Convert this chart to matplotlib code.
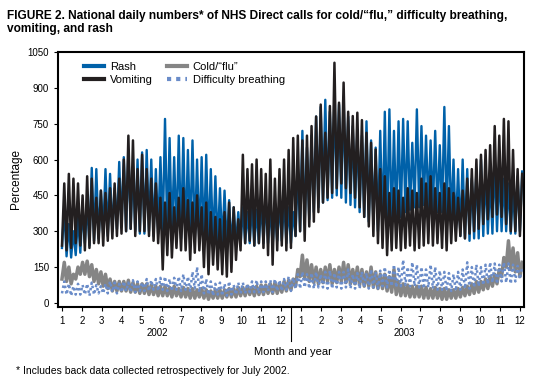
import numpy as np
import matplotlib.pyplot as plt

# weekly readings (Jan 2002 - early Dec 2003): weekly peak and weekly low
rash_hi = [400, 330, 300, 360, 390, 420, 565, 560, 470, 560, 540, 480, 590,
           610, 640, 570, 600, 630, 640, 600, 560, 610, 770, 690, 610, 700,
           690, 640, 680, 600, 610, 620, 560, 530, 480, 470, 430, 400, 380,
           400, 380, 410, 390, 420, 430, 400, 390, 420, 430, 400, 380, 560,
           720, 650, 700, 780, 820, 850, 800, 870, 830, 860, 780, 740, 720,
           700, 760, 680, 650, 720, 800, 810, 720, 760, 770, 760, 670, 810,
           740, 700, 680, 720, 660, 820, 740, 600, 560, 600, 560, 520, 560,
           600, 550, 520, 600, 560, 520, 500, 480, 530, 550]
rash_lo = [230, 195, 190, 200, 210, 250, 240, 260, 270, 290, 280, 300, 310,
           320, 300, 310, 300, 290, 290, 300, 280, 290, 290, 280, 270, 280,
           270, 260, 270, 260, 250, 250, 250, 240, 240, 240, 230, 230, 240,
           240, 250, 250, 240, 250, 250, 250, 240, 260, 260, 250, 250, 280,
           300, 330, 350, 380, 400, 420, 430, 440, 450, 440, 420, 410, 400,
           380, 360, 340, 330, 300, 300, 310, 320, 340, 360, 380, 390, 400,
           400, 410, 400, 390, 380, 380, 360, 330, 300, 280, 270, 260, 270,
           270, 280, 290, 290, 300, 300, 300, 290, 290, 300]
vom_hi = [500, 540, 520, 500, 450, 530, 520, 440, 470, 460, 480, 500, 520,
          600, 700, 680, 560, 620, 560, 520, 500, 440, 420, 460, 400, 440,
          480, 430, 420, 450, 400, 420, 380, 360, 350, 380, 420, 400, 350,
          620, 560, 580, 600, 560, 540, 600, 520, 560, 600, 640, 690, 700,
          680, 700, 740, 780, 830, 712, 824, 1005, 838, 922, 800, 782, 796,
          765, 712, 670, 642, 560, 530, 460, 480, 470, 440, 480, 470, 460,
          520, 500, 530, 480, 460, 500, 480, 460, 440, 470, 520, 560, 600,
          620, 640, 660, 740, 700, 770, 760, 640, 560, 540]
vom_lo = [240, 220, 230, 250, 240, 220, 230, 250, 250, 240, 260, 270, 280,
          290, 300, 310, 280, 300, 300, 280, 260, 250, 140, 200, 190, 230,
          220, 220, 180, 210, 220, 150, 120, 160, 140, 120, 110, 130, 180,
          220, 250, 260, 240, 250, 230, 200, 160, 220, 240, 220, 230, 280,
          300, 260, 320, 340, 380, 420, 440, 460, 480, 500, 480, 460, 440,
          400, 360, 320, 280, 250, 230, 200, 220, 230, 220, 230, 240, 220,
          230, 240, 250, 240, 250, 230, 220, 250, 260, 280, 270, 290, 300,
          310, 330, 350, 360, 370, 360, 330, 300, 300, 280]
flu_hi = [170, 150, 120, 150, 170, 175, 160, 140, 130, 120, 100, 90, 90,
          90, 95, 85, 80, 80, 80, 75, 70, 70, 70, 65, 70, 60,
          65, 60, 60, 55, 60, 55, 50, 55, 55, 55, 60, 60, 65,
          65, 70, 65, 70, 75, 75, 80, 85, 80, 90, 95, 100, 140,
          200, 180, 160, 150, 140, 150, 160, 140, 150, 170, 160, 140, 150,
          140, 130, 150, 130, 120, 120, 110, 140, 90, 80, 75, 70, 70,
          70, 65, 60, 65, 60, 60, 55, 55, 60, 65, 70, 80, 90,
          90, 100, 110, 120, 140, 190, 260, 230, 210, 170]
flu_lo = [100, 90, 80, 100, 120, 120, 110, 90, 80, 70, 60, 50, 50,
          50, 50, 45, 45, 40, 40, 35, 35, 30, 30, 30, 25, 30,
          25, 25, 20, 20, 25, 20, 15, 20, 20, 20, 25, 25, 25,
          30, 30, 35, 30, 35, 35, 40, 40, 40, 45, 50, 55, 70,
          110, 100, 90, 85, 80, 85, 90, 80, 85, 90, 85, 80, 80,
          75, 70, 70, 65, 60, 60, 50, 45, 35, 30, 30, 25, 25,
          25, 20, 20, 20, 20, 15, 15, 20, 20, 25, 30, 35, 40,
          45, 55, 60, 70, 80, 110, 150, 140, 130, 110]
dib_hi = [90, 80, 70, 80, 75, 80, 85, 75, 70, 80, 90, 85, 80,
          90, 85, 95, 90, 85, 100, 95, 100, 105, 110, 100, 105, 110,
          120, 110, 130, 150, 120, 100, 90, 80, 85, 80, 90, 75, 85,
          85, 80, 90, 95, 90, 90, 95, 100, 95, 100, 110, 105, 120,
          130, 120, 125, 130, 120, 130, 135, 125, 130, 130, 140, 120, 125,
          130, 125, 140, 130, 135, 150, 140, 160, 150, 180, 150, 170, 160,
          150, 140, 160, 150, 135, 130, 125, 120, 130, 140, 170, 150, 160,
          150, 160, 170, 165, 160, 170, 165, 160, 155, 150]
dib_lo = [40, 35, 30, 35, 35, 35, 30, 35, 40, 40, 40, 45, 40,
          45, 50, 45, 45, 50, 50, 50, 55, 50, 55, 50, 50, 55,
          50, 55, 50, 60, 45, 40, 35, 30, 35, 30, 30, 35, 35,
          40, 40, 45, 45, 40, 45, 50, 45, 50, 50, 55, 50, 60,
          60, 65, 60, 60, 65, 65, 60, 60, 65, 60, 65, 60, 60,
          60, 65, 60, 65, 60, 70, 65, 70, 65, 70, 75, 70, 70,
          65, 60, 65, 60, 55, 55, 50, 50, 50, 55, 60, 60, 65,
          70, 75, 80, 85, 80, 90, 85, 80, 90, 100]

month_labels = [str(m) for m in range(1, 13)] * 2
years = ['2002', '2003']

plt.rcParams['font.family'] = ['Liberation Sans', 'DejaVu Sans']


def zigzag(hi, lo):
    # week start = low, mid-week = peak, in months
    n = len(hi)
    days = np.repeat(np.arange(n) * 7.0, 2) + np.tile([0.0, 3.5], n)
    vals = np.ravel(np.column_stack([lo, hi]))
    return days / 30.44, vals


fig = plt.figure(figsize=(5.39, 3.88), dpi=100)
ax = fig.add_axes([0.1076, 0.21, 0.8645, 0.656])

x, y = zigzag(flu_hi, flu_lo)
ax.plot(x, y, color='#858585', lw=2.5, label='Cold/\u201cflu\u201d', zorder=2)
x, y = zigzag(dib_hi, dib_lo)
ax.plot(x, y, color='#6a8cc9', lw=1.8, ls=(0, (1, 1.2)), label='Difficulty breathing', zorder=3)
x, y = zigzag(rash_hi, rash_lo)
ax.plot(x, y, color='#0061a9', lw=1.7, label='Rash', zorder=4)
x, y = zigzag(vom_hi, vom_lo)
ax.plot(x, y, color='#231f20', lw=1.8, label='Vomiting', zorder=5)

ax.set_xlim(-0.2, 23.2)
ax.set_ylim(-15, 1050)
ax.set_yticks(np.arange(0, 1051, 150))
ax.set_xticks(np.arange(24))
ax.set_xticklabels(month_labels)
ax.tick_params(labelsize=7, length=3, width=0.8, direction='out')
for s in ax.spines.values():
    s.set_linewidth(1.5)
ax.set_ylabel('Percentage', fontsize=8.5)

handles, labels = ax.get_legend_handles_labels()
order = [2, 3, 0, 1]
leg = ax.legend([handles[i] for i in order], [labels[i] for i in order],
                ncol=2, frameon=False, fontsize=8, loc='upper left',
                bbox_to_anchor=(0.035, 1.0), handlelength=1.8,
                labelspacing=0.3, columnspacing=1.3, handletextpad=0.5)
for h in leg.get_lines():
    h.set_linewidth(3)

ax.text(4.8, -0.085, years[0], transform=ax.get_xaxis_transform(), ha='center', va='top', fontsize=7)
ax.text(17.2, -0.085, years[1], transform=ax.get_xaxis_transform(), ha='center', va='top', fontsize=7)
ax.plot([11.5, 11.5], [0, -0.135], transform=ax.get_xaxis_transform(),
        color='black', lw=0.8, clip_on=False)
ax.text(11.6, -0.16, 'Month and year', transform=ax.get_xaxis_transform(), ha='center', va='top', fontsize=8)

fig.text(0.013, 0.975, 'FIGURE 2. National daily numbers* of NHS Direct calls for cold/\u201cflu,\u201d difficulty breathing,\nvomiting, and rash',
         ha='left', va='top', fontsize=8.6, fontweight='bold', linespacing=1.15)
fig.text(0.03, 0.03, '* Includes back data collected retrospectively for July 2002.', ha='left', va='bottom', fontsize=7.5)

fig.savefig('out.png', dpi=100)
